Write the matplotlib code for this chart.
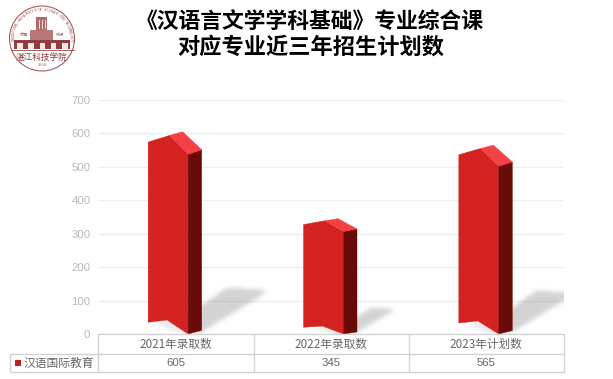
import numpy as np
import matplotlib
matplotlib.use("Agg")
import matplotlib.pyplot as plt
from matplotlib.patches import Circle, Polygon, Rectangle
from matplotlib.path import Path

plt.rcParams['font.family'] = ['Noto Sans CJK SC', 'DejaVu Sans']

title_lines = ["《汉语言文学学科基础》专业综合课", "对应专业近三年招生计划数"]
categories = ["2021年录取数", "2022年录取数", "2023年计划数"]
series_name = "汉语国际教育"
values = [605, 345, 565]
y_ticks = [0, 100, 200, 300, 400, 500, 600, 700]

W, H = 613, 379
fig = plt.figure(figsize=(W / 100, H / 100), dpi=100, facecolor="white")

# plot area in pixels
L, R, T, B = 98.0, 564.0, 100.0, 334.0
ax = fig.add_axes([L / W, 1 - B / H, (R - L) / W, (B - T) / H])
ax.patch.set_alpha(0)
for s in ax.spines.values():
    s.set_visible(False)
for v in y_ticks[1:]:
    ax.axhline(v, color="#eeeeee", lw=0.9, zorder=1)

PX = 3.0 / (R - L)          # one pixel in category units
positions = np.arange(len(values)) + 0.5

# soft shadows, rasterised on the plot-area pixel grid and blurred
nx, ny = int(R - L), int(B - T)
gx = (np.arange(nx) + .5) / nx * 3
gy = (np.arange(ny)[::-1] + .5) / ny * 700
XX, YY = np.meshgrid(gx, gy)
pts = np.column_stack([XX.ravel(), YY.ravel()])
mask = np.zeros(XX.shape)
for c, v in zip(positions, values):
    x = lambda dx: c + (dx - 27.5) * PX
    k = v / 605.0
    cast = [(x(50), 0), (x(53.5 + 60 * k), v * .19), (x(53.5 + 64 * k), v * .218),
            (x(53.5 + 26 * k), v * .23), (x(50), v * .13)]
    under = [(x(8), v * .05), (x(40), -3), (x(40), v * .08)]
    mask = np.maximum(mask, Path(cast).contains_points(pts).reshape(XX.shape).astype(float))
    mask = np.maximum(mask, .6 * Path(under).contains_points(pts).reshape(XX.shape).astype(float))
kern = np.exp(-.5 * (np.arange(-7, 8) / 2.2) ** 2)
kern /= kern.sum()
pad = 8
padded = np.pad(mask, pad, mode="edge")
padded = np.apply_along_axis(lambda r: np.convolve(r, kern, mode="same"), 1, padded)
padded = np.apply_along_axis(lambda r: np.convolve(r, kern, mode="same"), 0, padded)
blur = padded[pad:-pad, pad:-pad]
rgba = np.zeros(blur.shape + (4,))
rgba[..., :3] = .5
rgba[..., 3] = blur * .34
ax.imshow(rgba, extent=(0, 3, 0, 700), aspect="auto", zorder=2, interpolation="bilinear")

ax.set_xlim(0, 3)
ax.set_ylim(0, 700)
ax.set_xticks([])
ax.set_yticks(y_ticks)
ax.tick_params(axis="y", length=0, pad=5.5, labelsize=8.2, labelcolor="#bdb8b0")
for lab in ax.get_yticklabels():
    lab.set_fontfamily(["Liberation Sans"])


def draw_bar(c, v):
    x = lambda dx: c + (dx - 27.5) * PX   # dx: pixels from the front-left edge
    ax.add_patch(Polygon([(x(0), v * .949), (x(21.5), v * .982), (x(40), v * .889),
                          (x(40), 0), (x(19), v * .069), (x(0), v * .058)],
                         closed=True, fc="#d32220", ec="#d32220", lw=0.3, zorder=3))
    ax.add_patch(Polygon([(x(40), v * .889), (x(53.5), v * .911), (x(53.5), v * .018), (x(40), 0)],
                         closed=True, fc="#680a08", ec="#680a08", lw=0.3, zorder=3))
    ax.add_patch(Polygon([(x(21.5), v * .982), (x(34.5), v), (x(53.5), v * .911), (x(40), v * .889)],
                         closed=True, fc="#f54045", ec="#f54045", lw=0.3, zorder=3))


for c, v in zip(positions, values):
    draw_bar(c, v)

# overlay in pixel coordinates: title, logo, data table
ov = fig.add_axes([0, 0, 1, 1])
ov.set_xlim(0, W)
ov.set_ylim(H, 0)
ov.axis("off")
ov.patch.set_alpha(0)

ov.text(310, 21.5, title_lines[0], ha="center", va="center", fontsize=15.7,
        fontweight="bold", color="black")
ov.text(311, 47, title_lines[1], ha="center", va="center", fontsize=16,
        fontweight="bold", color="black")

# data table
gc = "#d2d2d2"
col_x = [98, 253.5, 408.7, 564]
for a, b, c, d in [(98, 334, 564, 334), (10, 354, 564, 354), (10, 371.5, 564, 371.5),
                   (10, 354, 10, 371.5)]:
    ov.plot([a, c], [b, d], color=gc, lw=1, solid_capstyle="butt")
for xx in col_x:
    ov.plot([xx, xx], [334, 371.5], color=gc, lw=1, solid_capstyle="butt")
for i, (name, v) in enumerate(zip(categories, values)):
    xc = (col_x[i] + col_x[i + 1]) / 2
    ov.text(xc, 344, name, ha="center", va="center", fontsize=8.4, color="#666666")
    ov.text(xc, 363, str(v), ha="center", va="center", fontsize=8.2, color="#666666",
            family=["Liberation Sans"])
ov.add_patch(Rectangle((15, 360), 6, 6, fc="#c81e1e", ec="none"))
ov.text(23, 363, series_name, ha="left", va="center", fontsize=8.5, color="#666666")

# logo
lc = "#a85c5c"
cx, cy, r = 42, 38.5, 32.5
ov.add_patch(Circle((cx, cy), r, fc="none", ec=lc, lw=0.8, zorder=5))
ov.plot([10.5, 73.5], [49.5, 49.5], color=lc, lw=0.7)
for (x0, y0, w, h, col) in [(14, 39.5, 56, 9, "#8f3d3e"), (30, 30, 23, 9.5, "#b87878"),
                            (36, 17, 11, 13, "#b06a6a")]:
    ov.add_patch(Rectangle((x0, y0), w, h, fc=col, ec="none"))
for xx in np.linspace(17, 62, 5):
    ov.add_patch(Rectangle((xx, 43), 5.5, 5.5, fc="#f6e6e6", ec="none"))
for xx in [38.5, 41.5, 44.5]:
    ov.add_patch(Rectangle((xx, 20), 1.0, 9, fc="#f0d8d8", ec="none"))
ov.text(42, 57, "湛江科技学院", ha="center", va="center", fontsize=6.2, color="#8c3a3a",
        style="italic")
ov.text(42, 65.5, "1994", ha="center", va="center", fontsize=3, color=lc)
ov.text(24, 34.5, "求是", ha="center", va="center", fontsize=3, color=lc)
ov.text(60, 34.5, "践行", ha="center", va="center", fontsize=3, color=lc)
arc_text = "ZHANJIANG UNIVERSITY OF SCIENCE AND TECHNOLOGY"
angles = np.linspace(-92, 92, len(arc_text))
for ch, ang in zip(arc_text, angles):
    rad = np.deg2rad(ang)
    ov.text(cx + 28.5 * np.sin(rad), cy - 28.5 * np.cos(rad), ch, ha="center", va="center",
            fontsize=2.7, color="#8c3a3a", rotation=-ang,
            rotation_mode="anchor", family=["Liberation Serif"])

fig.savefig("out.png", dpi=100, facecolor="white")
